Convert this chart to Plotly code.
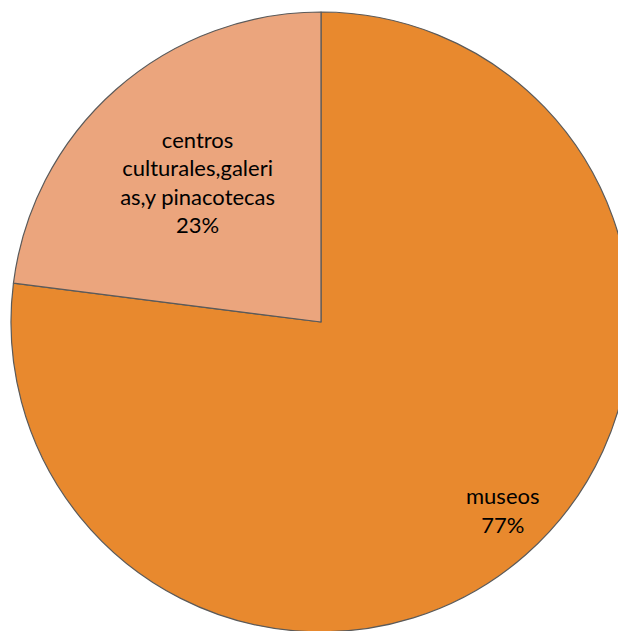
import plotly.graph_objects as go

labels = ["museos", "centros<br>culturales,galeri<br>as,y pinacotecas"]
values = [77, 23]
colors = ["#E8892E", "#EBA57D"]
pct_text = ["77%", "23%"]

W, H = 626, 631
fig = go.Figure(go.Pie(
    labels=labels,
    values=values,
    sort=False,
    direction="clockwise",
    rotation=0,
    marker=dict(colors=colors, line=dict(color="#5a5a5a", width=1.2)),
    text=["", labels[1] + "<br>" + pct_text[1]],
    texttemplate="%{text}",
    textposition="inside",
    insidetextorientation="horizontal",
    textfont=dict(family="Lato, Carlito, sans-serif", size=22, color="#000000"),
    hoverinfo="label+percent",
    showlegend=False,
    domain=dict(x=[3 / W, 623 / W], y=[7 / H, 627 / H]),
))
fig.add_annotation(
    x=0.79, y=0.205, xref="paper", yref="paper",
    xanchor="center", yanchor="middle",
    text=labels[0] + "<br>" + pct_text[0],
    showarrow=False,
    font=dict(family="Lato, Carlito, sans-serif", size=22, color="#000000"),
    align="center",
)
fig.update_layout(
    width=W, height=H,
    margin=dict(l=0, r=0, t=0, b=0),
    paper_bgcolor="white",
    plot_bgcolor="white",
)
fig.write_html("out.html")
